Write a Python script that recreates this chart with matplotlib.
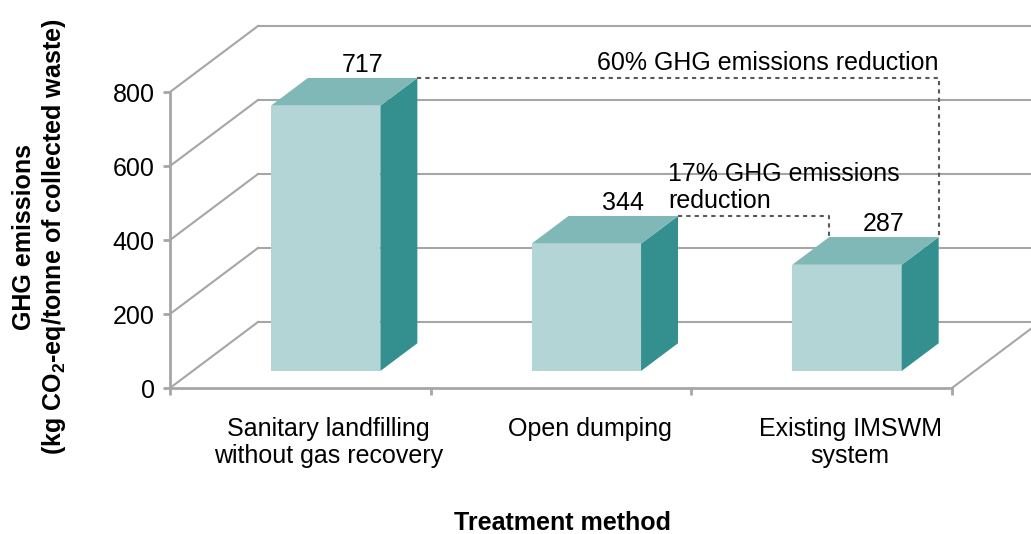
import numpy as np
import matplotlib
matplotlib.use('Agg')
import matplotlib.pyplot as plt
from matplotlib.patches import Polygon

plt.rcParams['font.family'] = ['Liberation Sans', 'DejaVu Sans']
plt.rcParams['mathtext.fontset'] = 'custom'
plt.rcParams['mathtext.rm'] = 'Liberation Sans:bold'

# data
categories = ['Sanitary landfilling\nwithout gas recovery', 'Open dumping', 'Existing IMSWM\nsystem']
values = [717, 344, 287]
yticks = [0, 200, 400, 600, 800]

# pseudo 3d geometry (in data units)
DX, DY = 0.3376, 178.4     # full floor depth
F0, FD = 0.258, 0.42       # bar front position / bar depth (fractions of floor depth)
BW = 0.42                  # bar width
FS = 18

grid_col = '#a6a6a6'
front_col = '#b3d5d6'
top_col = '#80b8b8'
side_col = '#33908e'
dot_col = '#595959'

fig = plt.figure(figsize=(10.31, 5.34), dpi=100)
ax = fig.add_axes([170/1031, 146/534, 782/1031, 296/534])
ax.set_xlim(0, 3)
ax.set_ylim(0, 800)

# walls / gridlines
for v in yticks:
    ax.plot([0, DX], [v, v + DY], color=grid_col, lw=1.5, clip_on=False, zorder=1)
    ax.plot([DX, 3.6], [v + DY, v + DY], color=grid_col, lw=1.5, clip_on=False, zorder=1)
ax.plot([3, 3 + DX], [0, DY], color=grid_col, lw=1.5, clip_on=False, zorder=1)

# bars
ddx, ddy = FD * DX, FD * DY
corners = []
for i, v in enumerate(values):
    x0 = i + 0.51 - BW / 2 + F0 * DX
    x1 = x0 + BW
    y0 = F0 * DY
    y1 = v + F0 * DY
    ax.add_patch(Polygon([(x0, y0), (x1, y0), (x1, y1), (x0, y1)], closed=True,
                         fc=front_col, ec='none', clip_on=False, zorder=3))
    ax.add_patch(Polygon([(x1, y0), (x1 + ddx, y0 + ddy), (x1 + ddx, y1 + ddy), (x1, y1)],
                         closed=True, fc=side_col, ec='none', clip_on=False, zorder=3))
    ax.add_patch(Polygon([(x0, y1), (x1, y1), (x1 + ddx, y1 + ddy), (x0 + ddx, y1 + ddy)],
                         closed=True, fc=top_col, ec='none', clip_on=False, zorder=3))
    ax.annotate(str(v), xy=((x0 + x1) / 2 + ddx, y1 + ddy), xytext=(0, 1),
                textcoords='offset points', ha='center', va='bottom', fontsize=FS,
                annotation_clip=False)
    corners.append((x0 + ddx, x1 + ddx, y1 + ddy))

# reduction brackets
lx0, rx0, t0 = corners[0]
lx1, rx1, t1 = corners[1]
lx2, rx2, t2 = corners[2]
ax.plot([rx0, rx2, rx2], [t0, t0, t2], color=dot_col, lw=1.5, ls=(0, (2, 2)),
        clip_on=False, zorder=4)
ax.plot([rx1, lx2, lx2], [t1, t1, t2], color=dot_col, lw=1.5, ls=(0, (2, 2)),
        clip_on=False, zorder=4)
ax.annotate('60% GHG emissions reduction', xy=(rx2, t0), xytext=(0, 2),
            textcoords='offset points', ha='right', va='bottom', fontsize=FS,
            annotation_clip=False)
ax.annotate('17% GHG emissions\nreduction', xy=(rx1, t1), xytext=(-7, 2),
            textcoords='offset points', ha='left', va='bottom', fontsize=FS,
            linespacing=1.15, annotation_clip=False)

# axes styling
for s in ['top', 'right']:
    ax.spines[s].set_visible(False)
for s in ['left', 'bottom']:
    ax.spines[s].set_color(grid_col)
    ax.spines[s].set_linewidth(2)
ax.set_yticks(yticks)
ax.tick_params(axis='y', colors=grid_col, length=5, width=2, pad=6, labelsize=FS,
               labelcolor='black')
ax.set_xticks([0, 1, 2, 3])
ax.set_xticklabels([])
# category labels sit under the bar fronts
ax.set_xticks(np.arange(3) + 0.51 + F0 * DX + 0.012, minor=True)
ax.set_xticklabels(categories, minor=True, fontsize=FS, linespacing=1.15)
ax.tick_params(axis='x', which='major', colors=grid_col, length=5, width=2)
ax.tick_params(axis='x', which='minor', length=0, pad=21, labelcolor='black')

fig.text(24/1031, 1 - 237/534, 'GHG emissions', rotation=90, ha='center', va='center',
         fontsize=FS, fontweight='bold')
fig.text(54/1031, 1 - 237/534, '(kg CO$_2$-eq/tonne of collected waste)', rotation=90,
         ha='center', va='center', fontsize=FS, fontweight='bold')
fig.text(563/1031, 1 - 523/534, 'Treatment method', ha='center', va='center',
         fontsize=FS, fontweight='bold')

fig.savefig('out.png', dpi=100)
